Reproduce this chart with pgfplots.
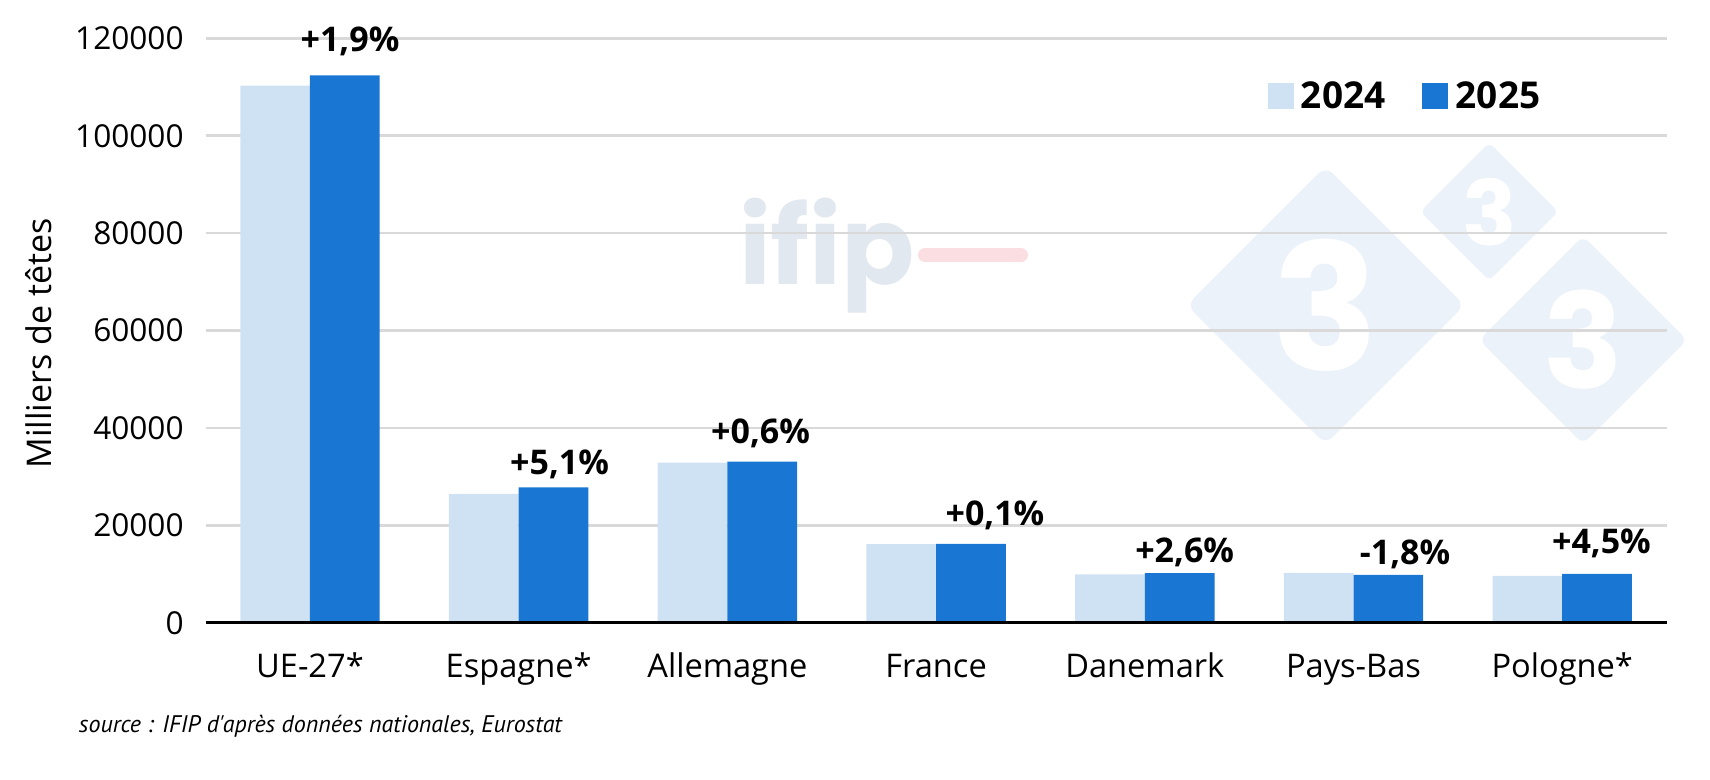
\documentclass[border=0pt]{standalone}
\usepackage{fontspec}
\setmainfont{Open Sans}
\newfontfamily\ptfont{PT Sans}
\newfontfamily\popfont{Poppins}
\usepackage{pgfplots}
\pgfplotsset{compat=1.18}
\definecolor{c24}{RGB}{207,226,243}
\definecolor{c25}{RGB}{25,118,210}
\definecolor{gridc}{RGB}{217,217,217}
\definecolor{wm}{RGB}{236,242,249}
\definecolor{wmtext}{RGB}{226,232,239}
\definecolor{wmpink}{RGB}{250,222,226}
\begin{document}
\begin{tikzpicture}
\path[use as bounding box] (-102.8pt,-78.5pt) rectangle (752.2pt,311.5pt);
% watermark
\fill[wm, rounded corners=5pt] (560.05pt,228.35pt) -- (629.55pt,158.85pt) -- (560.05pt,89.35pt) -- (490.55pt,158.85pt) -- cycle;
\fill[wm, rounded corners=3pt] (641.85pt,240.15pt) -- (676.35pt,205.65pt) -- (641.85pt,171.15pt) -- (607.35pt,205.65pt) -- cycle;
\fill[wm, rounded corners=4pt] (688.8pt,193.5pt) -- (740.8pt,141.5pt) -- (688.8pt,89.5pt) -- (636.8pt,141.5pt) -- cycle;
\node[text=white, inner sep=0pt, font=\popfont\bfseries\fontsize{88}{88}\selectfont] at (560.05pt,158.85pt) {3};
\node[text=white, inner sep=0pt, font=\popfont\bfseries\fontsize{45}{45}\selectfont] at (641.85pt,205.65pt) {3};
\node[text=white, inner sep=0pt, font=\popfont\bfseries\fontsize{66}{66}\selectfont] at (688.8pt,141.5pt) {3};
\node[anchor=base west, inner sep=0pt, text=wmtext, font=\popfont\bfseries\fontsize{54}{54}\selectfont] at (266.5pt,169pt) {ifip};
\draw[wmpink, line width=7.2pt, line cap=round] (359.8pt,184pt) -- (407.6pt,184pt);
\begin{axis}[
  at={(0pt,0pt)}, anchor=south west, scale only axis,
  width=730.5pt, height=292.35pt,
  xmin=-0.5, xmax=6.5, ymin=0, ymax=120000,
  clip=false,
  xtick={0,1,2,3,4,5,6},
  xticklabels={UE-27*, Espagne*, Allemagne, France, Danemark, Pays-Bas, Pologne*},
  ytick={0,20000,40000,60000,80000,100000,120000},
  scaled y ticks=false,
  yticklabel={\pgfmathprintnumber[fixed, precision=0, 1000 sep={}, assume math mode=true]{\tick}},
  ymajorgrids, grid style={gridc, line width=1.3pt},
  axis line style={draw=none},
  major tick length=0pt, tick style={draw=none},
  xticklabel style={anchor=base, inner sep=0pt, yshift=-27.2pt, font=\fontsize{16.3}{19}\selectfont},
  yticklabel style={anchor=east, inner sep=0pt, xshift=-10.8pt, font=\fontsize{15.8}{19}\selectfont},
  every axis y label/.style={at={(axis description cs:-0.1143,0.478)}, rotate=90, anchor=center, font=\fontsize{17}{20}\selectfont},
  ylabel={Milliers de têtes},
  legend style={at={(0.8216,0.901)}, anchor=center, draw=none, fill=none, inner sep=0pt,
    font=\bfseries\fontsize{18.5}{21}\selectfont,
    /tikz/every even column/.append style={column sep=16.5pt}},
  legend columns=2,
]
\addlegendimage{legend image code/.code={\fill[c24] (0pt,-6.25pt) rectangle (12.5pt,6.25pt); \path[draw=none, fill=none] (0pt,0pt) rectangle (14.5pt,0.1pt);}}
\addlegendentry{2024}
\addlegendimage{legend image code/.code={\fill[c25] (0pt,-6.25pt) rectangle (12.5pt,6.25pt); \path[draw=none, fill=none] (0pt,0pt) rectangle (14.5pt,0.1pt);}}
\addlegendentry{2025}
\addplot[ybar, bar width=34.85pt, bar shift=-17.425pt, fill=c24, draw=none, forget plot] table {
x y
0 110300
1 26500
2 32900
3 16200
4 10000
5 10300
6 9650
};
\addplot[ybar, bar width=34.85pt, bar shift=17.425pt, fill=c25, draw=none, forget plot] table {
x y
0 112400
1 27850
2 33100
3 16220
4 10260
5 9900
6 10080
};
\addplot[draw=none, forget plot, nodes near coords, point meta=explicit symbolic,
  every node near coord/.append style={anchor=base, inner sep=0pt, font=\bfseries\fontsize{17}{20}\selectfont}]
  table[meta=lab] {
x y lab
0.192 117200 +1,9\%
1.196 30500 +5,1\%
2.159 36900 +0,6\%
3.282 20000 +0,1\%
4.191 12400 +2,6\%
5.247 12000 -1,8\%
6.188 14300 +4,5\%
};
\draw[black, line width=1.5pt] (rel axis cs:0,0) -- (rel axis cs:1,0);
\end{axis}
\node[anchor=base west, inner sep=0pt, font=\ptfont\itshape\fontsize{12}{14}\selectfont] at (-63.5pt,-55pt) {source : IFIP d'après données nationales, Eurostat};
\end{tikzpicture}
\end{document}
